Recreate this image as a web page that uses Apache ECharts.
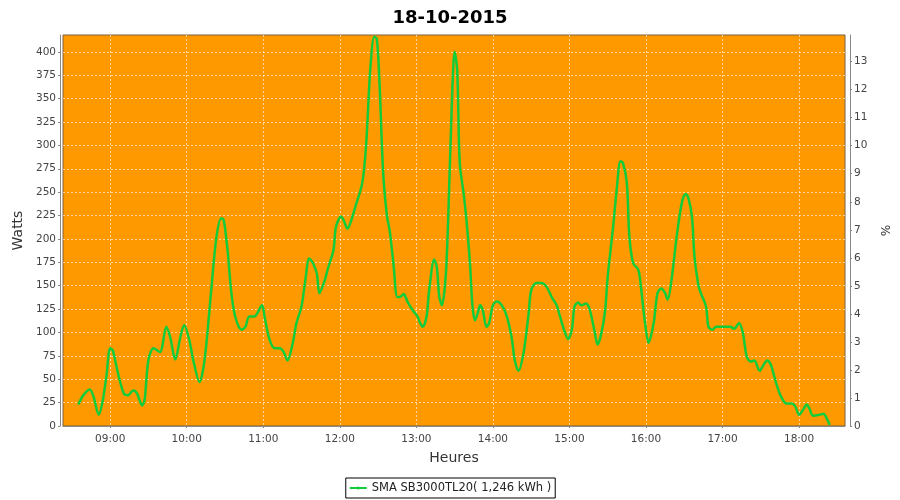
<!DOCTYPE html>
<html>
<head>
<meta charset="utf-8">
<script src="https://cdn.jsdelivr.net/npm/echarts@6/dist/echarts.min.js"></script>
<style>html,body{margin:0;padding:0;background:#fff}#c{width:900px;height:500px}</style>
</head>
<body>
<div id="c"></div>
<script>
const chartTitle = "18-10-2015";
const seriesName = "SMA SB3000TL20( 1,246 kWh )";
const times = [
  "08:35","08:39","08:44","08:47","08:51","08:54","08:57","09:00","09:02","09:05",
  "09:08","09:11","09:14","09:18","09:21","09:25","09:27","09:30","09:34","09:39",
  "09:44","09:47","09:51","09:55","09:58","10:02","10:05","10:10","10:14","10:19",
  "10:23","10:27","10:29","10:32","10:35","10:38","10:43","10:46","10:49","10:53",
  "10:59","11:01","11:05","11:09","11:13","11:16","11:19","11:23","11:26","11:30",
  "11:33","11:36","11:39","11:42","11:44","11:48","11:51","11:55","11:57","12:01",
  "12:03","12:06","12:09","12:13","12:17","12:19","12:21","12:24","12:27","12:29",
  "12:31","12:34","12:37","12:39","12:42","12:45","12:47","12:50","12:53","12:57",
  "13:01","13:03","13:05","13:08","13:10","13:14","13:16","13:18","13:20","13:23",
  "13:25","13:28","13:30","13:32","13:34","13:37","13:39","13:42","13:44","13:46",
  "13:48","13:50","13:52","13:55","13:57","14:00","14:03","14:07","14:11","14:15",
  "14:17","14:20","14:24","14:28","14:30","14:34","14:38","14:42","14:46","14:50",
  "14:52","14:55","14:59","15:02","15:04","15:07","15:09","15:13","15:16","15:20",
  "15:22","15:25","15:28","15:30","15:34","15:37","15:40","15:42","15:45","15:47",
  "15:50","15:54","15:56","15:59","16:02","16:06","16:09","16:12","16:15","16:17",
  "16:20","16:24","16:28","16:31","16:33","16:36","16:38","16:41","16:43","16:47",
  "16:49","16:52","16:55","17:00","17:06","17:09","17:13","17:16","17:19","17:22",
  "17:25","17:29","17:32","17:35","17:38","17:42","17:46","17:50","17:54","17:57",
  "18:00","18:03","18:06","18:08","18:11","18:16","18:19","18:21","18:24"
];
const watts = [
  23,33,39,31,12,26,53,83,81,63,
  46,34,33,38,35,22,28,71,83,79,
  106,95,71,95,108,92,71,47,71,142,
  199,222,220,188,142,117,103,106,117,117,
  129,117,92,83,83,79,70,88,110,128,
  156,179,174,163,142,155,170,188,213,224,
  220,211,220,238,256,274,309,384,416,414,
  370,270,224,210,174,138,138,141,133,124,
  117,110,106,117,145,178,170,138,129,160,
  224,352,400,381,281,249,224,174,128,113,
  120,129,124,106,110,129,133,129,117,92,
  71,59,78,120,145,153,153,149,138,129,
  120,106,93,104,128,132,129,131,124,99,
  87,99,124,160,210,252,283,281,260,202,
  174,167,149,113,89,110,142,147,142,135,
  156,202,238,248,245,224,181,151,142,128,
  106,103,106,106,106,104,110,99,74,69,
  70,59,65,70,65,46,31,24,24,21,
  12,17,23,19,11,12,13,10,1
];
const xStart = "08:23";
const xEnd = "18:36";
const wattsMax = 418;
const percentMax = 13.95;

function ts(hhmm) {
  const p = hhmm.split(":");
  return new Date(2015, 9, 18, +p[0], +p[1]).getTime();
}
function pad(n) { return (n < 10 ? "0" : "") + n; }

const chart = echarts.init(document.getElementById("c"));
const font = "DejaVu Sans";
chart.setOption({
  animation: false,
  backgroundColor: "#ffffff",
  title: {
    text: chartTitle, left: "center", top: 4,
    textStyle: { fontFamily: font, fontWeight: "bold", fontSize: 18, color: "#000" }
  },
  legend: {
    data: [seriesName], bottom: 2, left: "center",
    borderColor: "#000", borderWidth: 1, padding: [3, 4, 3, 3],
    itemWidth: 17, itemHeight: 4, itemGap: 4,
    textStyle: { fontFamily: font, fontSize: 11.5, color: "#222", lineHeight: 14 }
  },
  grid: {
    left: 63, right: 55, top: 35, bottom: 74,
    show: true, backgroundColor: "#ff9900", borderColor: "#7d6040", borderWidth: 1
  },
  xAxis: {
    type: "time",
    min: ts(xStart), max: ts(xEnd),
    minInterval: 3600000, maxInterval: 3600000,
    offset: 3,
    name: "Heures", nameLocation: "middle", nameGap: 22,
    nameTextStyle: { fontFamily: font, fontSize: 14, color: "#333" },
    axisLine: { show: true, lineStyle: { color: "#888", width: 1 } },
    axisTick: { show: true, length: 2, lineStyle: { color: "#888" } },
    axisLabel: {
      fontFamily: font, fontSize: 10.5, color: "#444", margin: 5,
      showMinLabel: false, showMaxLabel: false,
      formatter: function (v) { const d = new Date(v); return pad(d.getHours()) + ":" + pad(d.getMinutes()); }
    },
    splitLine: { show: true, showMinLine: false, showMaxLine: false,
      lineStyle: { color: "rgba(255,255,255,0.6)", type: [2, 2], width: 1 } },
    minorTick: { show: false }
  },
  yAxis: [
    {
      type: "value", min: 0, max: wattsMax, interval: 25, position: "left", offset: 3,
      name: "Watts", nameLocation: "middle", nameGap: 32, nameRotate: 90,
      nameTextStyle: { fontFamily: font, fontSize: 14, color: "#333" },
      axisLine: { show: true, lineStyle: { color: "#888" } },
      axisTick: { show: true, length: 2, lineStyle: { color: "#888" } },
      axisLabel: { fontFamily: font, fontSize: 10.5, color: "#444", margin: 4, showMaxLabel: false },
      splitLine: { show: true, showMinLine: false, showMaxLine: false,
        lineStyle: { color: "rgba(255,255,255,0.6)", type: [2, 2], width: 1 } }
    },
    {
      type: "value", min: 0, max: percentMax, interval: 1, position: "right", offset: 5,
      name: "%", nameLocation: "middle", nameGap: 22, nameRotate: -90,
      nameTextStyle: { fontFamily: font, fontSize: 12, color: "#333" },
      axisLine: { show: true, lineStyle: { color: "#888" } },
      axisTick: { show: true, length: 2, lineStyle: { color: "#888" } },
      axisLabel: { fontFamily: font, fontSize: 10.5, color: "#444", margin: 4, showMaxLabel: false },
      splitLine: { show: false }
    }
  ],
  series: [{
    name: seriesName, type: "line", yAxisIndex: 0,
    data: times.map((t, i) => [ts(t), watts[i]]),
    smooth: 0.3, showSymbol: false, symbol: "circle", symbolSize: 3,
    lineStyle: { color: "#13cc3a", width: 2.5 },
    itemStyle: { color: "#13cc3a" }
  }]
});
</script>
</body>
</html>
